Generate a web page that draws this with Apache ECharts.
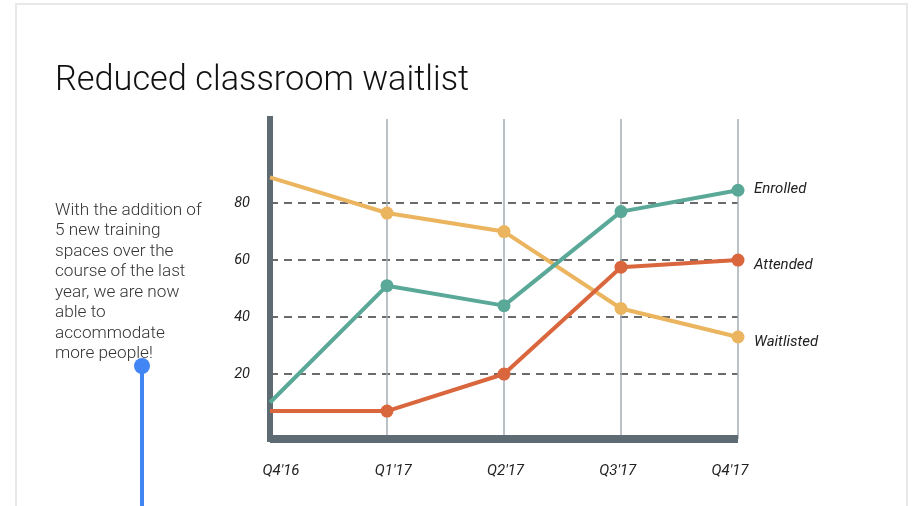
<!DOCTYPE html>
<html>
<head>
<meta charset="utf-8">
<style>
html,body{margin:0;padding:0;background:#fff;}
#chart{width:914px;height:506px;}
</style>
<script src="https://cdn.jsdelivr.net/npm/echarts@6/dist/echarts.min.js"></script>
</head>
<body>
<div id="chart"></div>
<script>
const categories = ["Q4'16", "Q1'17", "Q2'17", "Q3'17", "Q4'17"];
const enrolled = [10, 51, 44, 77, 84.5];
const attended = [7, 7, 20, 57.5, 60];
const waitlisted = [89, 76.5, 70, 43, 33];
const yTicks = [20, 40, 60, 80];
const titleText = "Reduced classroom waitlist";
const noteText = "With the addition of\n5 new training\nspaces over the\ncourse of the last\nyear, we are now\nable to\naccommodate\nmore people!";

const FONT = 'Roboto, "Noto Sans", sans-serif';
const chart = echarts.init(document.getElementById('chart'), null, {renderer: 'canvas'});

function mkData(arr) {
  return arr.map((v, i) => i === 0 ? {value: v, symbolSize: 0} : v);
}
function mkSeries(name, arr, color, labelOffset, withMarkLine) {
  const s = {
    name: name,
    type: 'line',
    xAxisIndex: 0,
    yAxisIndex: 0,
    data: mkData(arr),
    symbol: 'circle',
    symbolSize: 13,
    showSymbol: true,
    z: 5,
    lineStyle: {color: color, width: 4},
    itemStyle: {color: color},
    emphasis: {disabled: true},
    endLabel: {
      show: true,
      formatter: name,
      distance: 16,
      offset: labelOffset,
      color: '#222',
      fontFamily: FONT,
      fontStyle: 'italic',
      fontSize: 15
    }
  };
  if (withMarkLine) {
    s.markLine = {
      silent: true,
      symbol: ['none', 'none'],
      label: {show: false},
      z: 1,
      lineStyle: {color: '#6b6b6b', width: 2, type: [8, 6]},
      emphasis: {disabled: true},
      data: yTicks.map(v => ({yAxis: v}))
    };
  }
  return s;
}

const option = {
  animation: false,
  backgroundColor: '#fff',
  title: {
    text: titleText,
    left: 50,
    top: 59,
    textStyle: {fontFamily: FONT, fontWeight: 300, fontSize: 34.3, color: '#111'}
  },
  graphic: [
    {type: 'rect', shape: {x: 16, y: 4, width: 891, height: 520}, style: {fill: 'none', stroke: '#e8e8e8', lineWidth: 2}, silent: true, z: 0},
    {type: 'text', x: 55, y: 200, style: {text: noteText, font: '300 17.2px Roboto', lineHeight: 20.5, fill: '#333'}, silent: true},
    {type: 'line', shape: {x1: 142, y1: 366, x2: 142, y2: 506}, style: {stroke: '#4285f4', lineWidth: 4}, silent: true},
    {type: 'circle', shape: {cx: 142, cy: 366, r: 8}, style: {fill: '#4285f4'}, silent: true}
  ],
  grid: [
    {left: 270, right: 176, top: 119, bottom: 67, containLabel: false},
    {left: 281, right: 184, top: 119, bottom: 67, containLabel: false}
  ],
  xAxis: [
    {
      type: 'category', gridIndex: 0, data: categories, boundaryGap: false,
      axisLine: {show: true, onZero: false, lineStyle: {color: '#5f6b73', width: 8, cap: 'butt'}},
      axisTick: {show: false},
      axisLabel: {show: false},
      splitLine: {show: true, lineStyle: {color: '#a3adb4', width: 1.5}},
      z: 3
    },
    {
      type: 'category', gridIndex: 1, data: categories, boundaryGap: false,
      axisLine: {show: false},
      axisTick: {show: false},
      splitLine: {show: false},
      axisLabel: {show: true, margin: 25, color: '#222', fontFamily: FONT, fontStyle: 'italic', fontSize: 15, interval: 0}
    }
  ],
  yAxis: [
    {
      type: 'value', gridIndex: 0, min: -2.8, max: 109.5,
      axisLine: {show: true, lineStyle: {color: '#5f6b73', width: 6, cap: 'square'}},
      axisTick: {show: false},
      splitLine: {show: false},
      axisLabel: {show: true, customValues: yTicks, margin: 20, color: '#222', fontFamily: FONT, fontStyle: 'italic', fontSize: 14.5},
      z: 4
    },
    {
      type: 'value', gridIndex: 1, min: 0, max: 100, show: false
    }
  ],
  series: [
    mkSeries('Waitlisted', waitlisted, '#ebb45e', [0, 5], true),
    mkSeries('Attended', attended, '#d9663c', [0, 5], false),
    mkSeries('Enrolled', enrolled, '#5aa898', [0, -1], false)
  ]
};
chart.setOption(option);
</script>
</body>
</html>
